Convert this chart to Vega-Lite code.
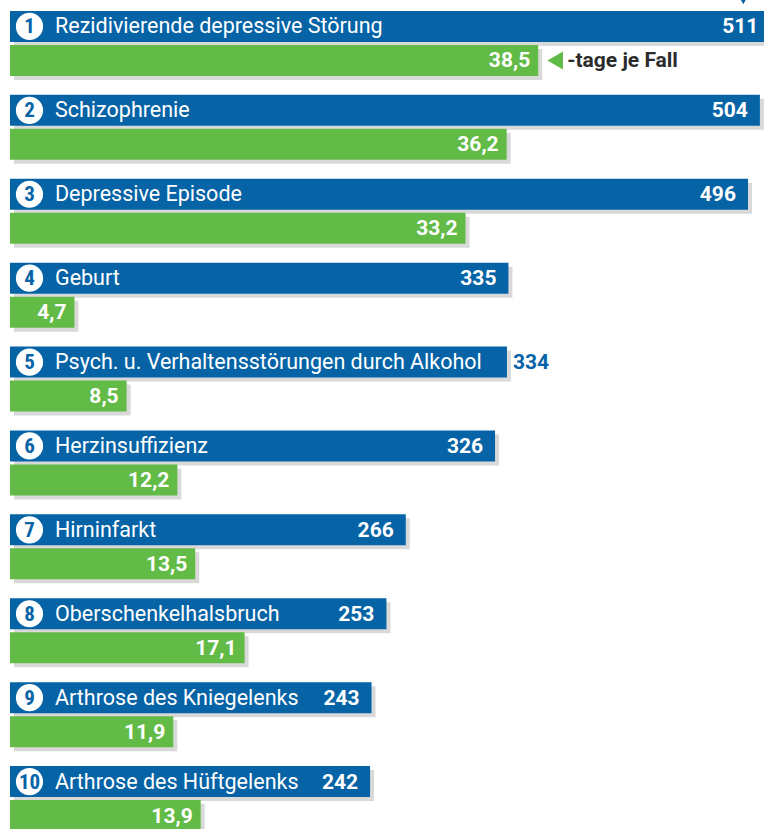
{
  "$schema": "https://vega.github.io/schema/vega-lite/v6.json",
  "width": 754,
  "height": 829,
  "autosize": {"type": "none"},
  "padding": {"left": 10, "top": 0, "right": 0, "bottom": 0},
  "background": "white",
  "config": {
    "view": {"stroke": null},
    "locale": {"number": {"decimal": ",", "thousands": ".", "grouping": [3], "currency": ["", " €"]}},
    "text": {"font": "Roboto, sans-serif"}
  },
  "data": {
    "values": [
      {"rank": 1, "label": "Rezidivierende depressive Störung", "faelle": 511, "tage": 38.5},
      {"rank": 2, "label": "Schizophrenie", "faelle": 504, "tage": 36.2},
      {"rank": 3, "label": "Depressive Episode", "faelle": 496, "tage": 33.2},
      {"rank": 4, "label": "Geburt", "faelle": 335, "tage": 4.7},
      {"rank": 5, "label": "Psych. u. Verhaltensstörungen durch Alkohol", "faelle": 334, "tage": 8.5},
      {"rank": 6, "label": "Herzinsuffizienz", "faelle": 326, "tage": 12.2},
      {"rank": 7, "label": "Hirninfarkt", "faelle": 266, "tage": 13.5},
      {"rank": 8, "label": "Oberschenkelhalsbruch", "faelle": 253, "tage": 17.1},
      {"rank": 9, "label": "Arthrose des Kniegelenks", "faelle": 243, "tage": 11.9},
      {"rank": 10, "label": "Arthrose des Hüftgelenks", "faelle": 242, "tage": 13.9}
    ]
  },
  "encoding": {
    "y": {"field": "rank", "type": "ordinal", "axis": null,
          "scale": {"domain": [1,2,3,4,5,6,7,8,9,10], "range": [1.5, 840.5], "paddingInner": 0, "paddingOuter": 0}}
  },
  "layer": [
    {
      "mark": {"type": "bar", "height": 31, "yOffset": -13, "xOffset": 4, "color": "#d9d9d9"},
      "encoding": {"x": {"field": "faelle", "type": "quantitative", "axis": null, "scale": {"domain": [0, 511], "range": [0, 760.3], "nice": false}}}
    },
    {
      "mark": {"type": "bar", "height": 31, "yOffset": 21, "xOffset": 4, "color": "#d9d9d9"},
      "encoding": {"x": {"field": "tage", "type": "quantitative", "axis": null, "scale": {"domain": [0, 38.5], "range": [0, 528.2], "nice": false}}}
    },
    {
      "mark": {"type": "bar", "height": 31, "yOffset": -17, "color": "#0563A6"},
      "encoding": {"x": {"field": "faelle", "type": "quantitative", "axis": null, "scale": {"domain": [0, 511], "range": [0, 760.3], "nice": false}}}
    },
    {
      "mark": {"type": "bar", "height": 31, "yOffset": 17, "color": "#62BB46"},
      "encoding": {"x": {"field": "tage", "type": "quantitative", "axis": null, "scale": {"domain": [0, 38.5], "range": [0, 528.2], "nice": false}}}
    },
    {
      "mark": {"type": "point", "shape": "circle", "filled": true, "opacity": 1, "size": 740, "color": "white", "xOffset": 19.5, "yOffset": -17},
      "encoding": {"x": {"datum": 0, "type": "quantitative", "axis": null, "scale": {"domain": [0, 511], "range": [0, 760.3], "nice": false}}}
    },
    {
      "mark": {"type": "text", "align": "center", "baseline": "middle", "dx": 19.5, "dy": -16, "fontSize": 21, "fontWeight": "bold", "color": "#0563A6", "font": "Roboto Condensed, Roboto, sans-serif"},
      "encoding": {
        "x": {"datum": 0, "type": "quantitative", "axis": null, "scale": {"domain": [0, 511], "range": [0, 760.3], "nice": false}},
        "text": {"field": "rank", "type": "nominal"}
      }
    },
    {
      "mark": {"type": "text", "align": "left", "baseline": "middle", "dx": 45, "dy": -16, "fontSize": 21.5, "color": "white"},
      "encoding": {
        "x": {"datum": 0, "type": "quantitative", "axis": null, "scale": {"domain": [0, 511], "range": [0, 760.3], "nice": false}},
        "text": {"field": "label", "type": "nominal"}
      }
    },
    {
      "transform": [{"filter": "datum.rank != 5"}],
      "mark": {"type": "text", "align": "right", "baseline": "middle", "dx": -12, "dy": -16, "fontSize": 21, "fontWeight": "bold", "color": "white"},
      "encoding": {
        "x": {"field": "faelle", "type": "quantitative", "axis": null, "scale": {"domain": [0, 511], "range": [0, 760.3], "nice": false}},
        "text": {"field": "faelle", "type": "quantitative", "format": "d"}
      }
    },
    {
      "transform": [{"filter": "datum.rank == 5"}],
      "mark": {"type": "text", "align": "left", "baseline": "middle", "dx": 6, "dy": -16, "fontSize": 21, "fontWeight": "bold", "color": "#0563A6"},
      "encoding": {
        "x": {"field": "faelle", "type": "quantitative", "axis": null, "scale": {"domain": [0, 511], "range": [0, 760.3], "nice": false}},
        "text": {"field": "faelle", "type": "quantitative", "format": "d"}
      }
    },
    {
      "mark": {"type": "text", "align": "right", "baseline": "middle", "dx": -8, "dy": 18, "fontSize": 21, "fontWeight": "bold", "color": "white"},
      "encoding": {
        "x": {"field": "tage", "type": "quantitative", "axis": null, "scale": {"domain": [0, 38.5], "range": [0, 528.2], "nice": false}},
        "text": {"field": "tage", "type": "quantitative", "format": ".1f"}
      }
    },
    {
      "transform": [{"filter": "datum.rank == 1"}],
      "mark": {"type": "point", "shape": "triangle-left", "filled": true, "opacity": 1, "size": 320, "color": "#62BB46", "xOffset": 17, "yOffset": 17},
      "encoding": {
        "x": {"field": "tage", "type": "quantitative", "axis": null, "scale": {"domain": [0, 38.5], "range": [0, 528.2], "nice": false}}
      }
    },
    {
      "transform": [{"filter": "datum.rank == 1"}],
      "mark": {"type": "text", "align": "left", "baseline": "middle", "dx": 29, "dy": 18, "fontSize": 21, "fontWeight": "bold", "color": "#2b2b2b", "text": "-tage je Fall"},
      "encoding": {
        "x": {"field": "tage", "type": "quantitative", "axis": null, "scale": {"domain": [0, 38.5], "range": [0, 528.2], "nice": false}}
      }
    },
    {
      "transform": [{"filter": "datum.rank == 1"}],
      "mark": {"type": "point", "shape": "triangle-down", "filled": true, "opacity": 1, "size": 40, "color": "#0563A6", "xOffset": -27, "yOffset": -42},
      "encoding": {
        "x": {"field": "faelle", "type": "quantitative", "axis": null, "scale": {"domain": [0, 511], "range": [0, 760.3], "nice": false}}
      }
    }
  ],
  "resolve": {"scale": {"x": "independent"}}
}
